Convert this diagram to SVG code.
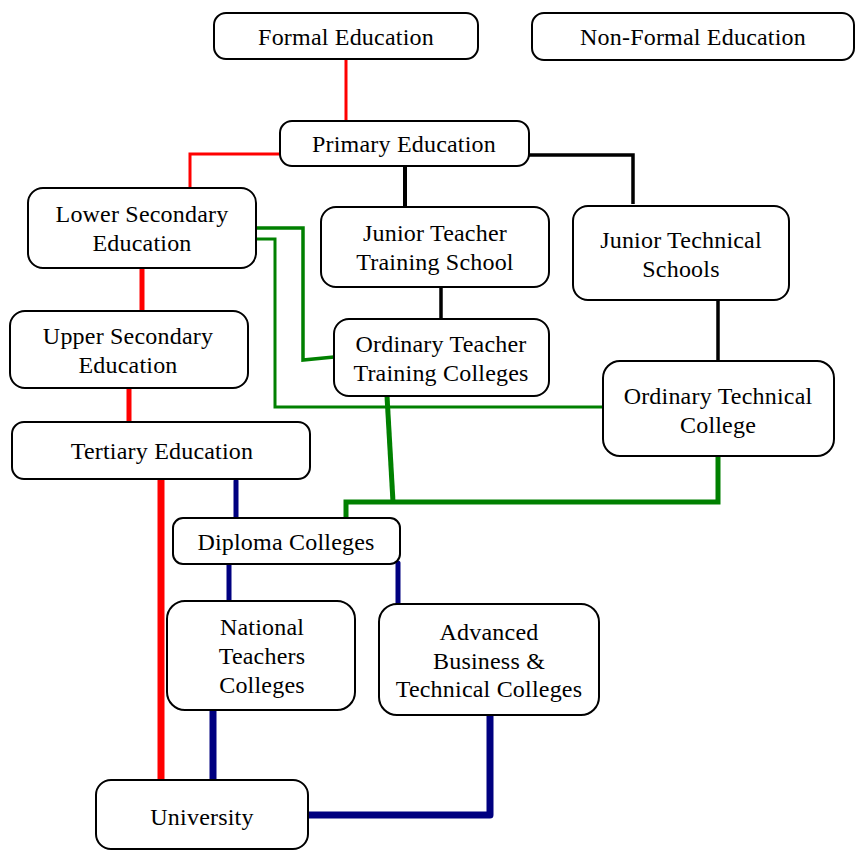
<svg xmlns="http://www.w3.org/2000/svg" width="857" height="856" viewBox="0 0 857 856">
<style>
.box{fill:#fff;stroke:#000;stroke-width:2}
text{font-family:"Liberation Serif","Times New Roman",serif;font-size:24px;letter-spacing:0.2px;fill:#000;text-anchor:middle}
.r{stroke:#f00;fill:none;stroke-linecap:round}
.k{stroke:#000;fill:none}
.g{stroke:#008000;fill:none}
.b{stroke:#000080;fill:none;stroke-linecap:round}
</style>
<rect width="857" height="856" fill="#fff"/>
<g id="connectors">
<line class="r" x1="346" y1="59" x2="346" y2="120" stroke-width="3"/>
<polyline class="r" points="280,154 190,154 190,191" stroke-width="3"/>
<line class="k" x1="405" y1="166" x2="405" y2="214" stroke-width="4"/>
<polyline class="k" points="529,155 633,155 633,204" stroke-width="3.5"/>
<line class="k" x1="441" y1="275" x2="441" y2="319" stroke-width="3.5"/>
<line class="k" x1="718" y1="300" x2="718" y2="361" stroke-width="3.5"/>
<polyline class="g" points="256,228 303,228 303,360 334,357" stroke-width="3.5"/>
<polyline class="g" points="249,239 275,239 275,407 612,407" stroke-width="3"/>
<polyline class="g" points="387,396 393,502" stroke-width="5"/>
<polyline class="g" points="346,527 346,502 718,502 718,456" stroke-width="5"/>
<line class="r" x1="142" y1="268" x2="142" y2="318" stroke-width="5"/>
<line class="r" x1="129" y1="387" x2="129" y2="432" stroke-width="5"/>
<line class="r" x1="161" y1="479" x2="161" y2="782" stroke-width="7"/>
<line class="b" x1="236" y1="481" x2="236" y2="518" stroke-width="5"/>
<line class="b" x1="229" y1="564" x2="229" y2="611" stroke-width="5"/>
<line class="b" x1="398" y1="563" x2="398" y2="612" stroke-width="5"/>
<line class="b" x1="213" y1="710" x2="213" y2="785" stroke-width="7"/>
<polyline class="b" points="490,715 490,815 307,815" stroke-width="7" stroke-linejoin="round"/>
</g>
<g id="formal"><rect class="box" x="214" y="13" width="264" height="46" rx="12"/><text x="346" y="45">Formal Education</text></g>
<g id="nonformal"><rect class="box" x="532" y="13" width="322" height="47" rx="12"/><text x="693" y="45">Non-Formal Education</text></g>
<g id="primary"><rect class="box" x="280" y="121" width="249" height="45" rx="12"/><text x="404" y="152">Primary Education</text></g>
<g id="lowersec"><rect class="box" x="28" y="188" width="228" height="80" rx="15"/><text x="142" y="222">Lower Secondary</text><text x="142" y="251">Education</text></g>
<g id="juniorteacher"><rect class="box" x="321" y="207" width="228" height="80" rx="15"/><text x="435" y="241">Junior Teacher</text><text x="435" y="270">Training School</text></g>
<g id="juniortech"><rect class="box" x="573" y="206" width="216" height="94" rx="15"/><text x="681" y="248">Junior Technical</text><text x="681" y="277">Schools</text></g>
<g id="uppersec"><rect class="box" x="10" y="311" width="238" height="77" rx="15"/><text x="128" y="344">Upper Secondary</text><text x="128" y="373">Education</text></g>
<g id="ordteacher"><rect class="box" x="334" y="319" width="215" height="77" rx="15"/><text x="441" y="352">Ordinary Teacher</text><text x="441" y="381">Training Colleges</text></g>
<g id="ordtech"><rect class="box" x="603" y="361" width="231" height="95" rx="17"/><text x="718" y="404">Ordinary Technical</text><text x="718" y="433">College</text></g>
<g id="tertiary"><rect class="box" x="12" y="422" width="298" height="57" rx="12"/><text x="162" y="459">Tertiary Education</text></g>
<g id="diploma"><rect class="box" x="173" y="518" width="227" height="46" rx="10"/><text x="286" y="550">Diploma Colleges</text></g>
<g id="national"><rect class="box" x="167" y="601" width="188" height="109" rx="18"/><text x="262" y="635">National</text><text x="262" y="664">Teachers</text><text x="262" y="693">Colleges</text></g>
<g id="advanced"><rect class="box" x="379" y="604" width="220" height="111" rx="18"/><text x="489" y="640">Advanced</text><text x="489" y="669">Business &amp;</text><text x="489" y="697">Technical Colleges</text></g>
<g id="university"><rect class="box" x="96" y="780" width="212" height="69" rx="15"/><text x="202" y="825">University</text></g>
</svg>
